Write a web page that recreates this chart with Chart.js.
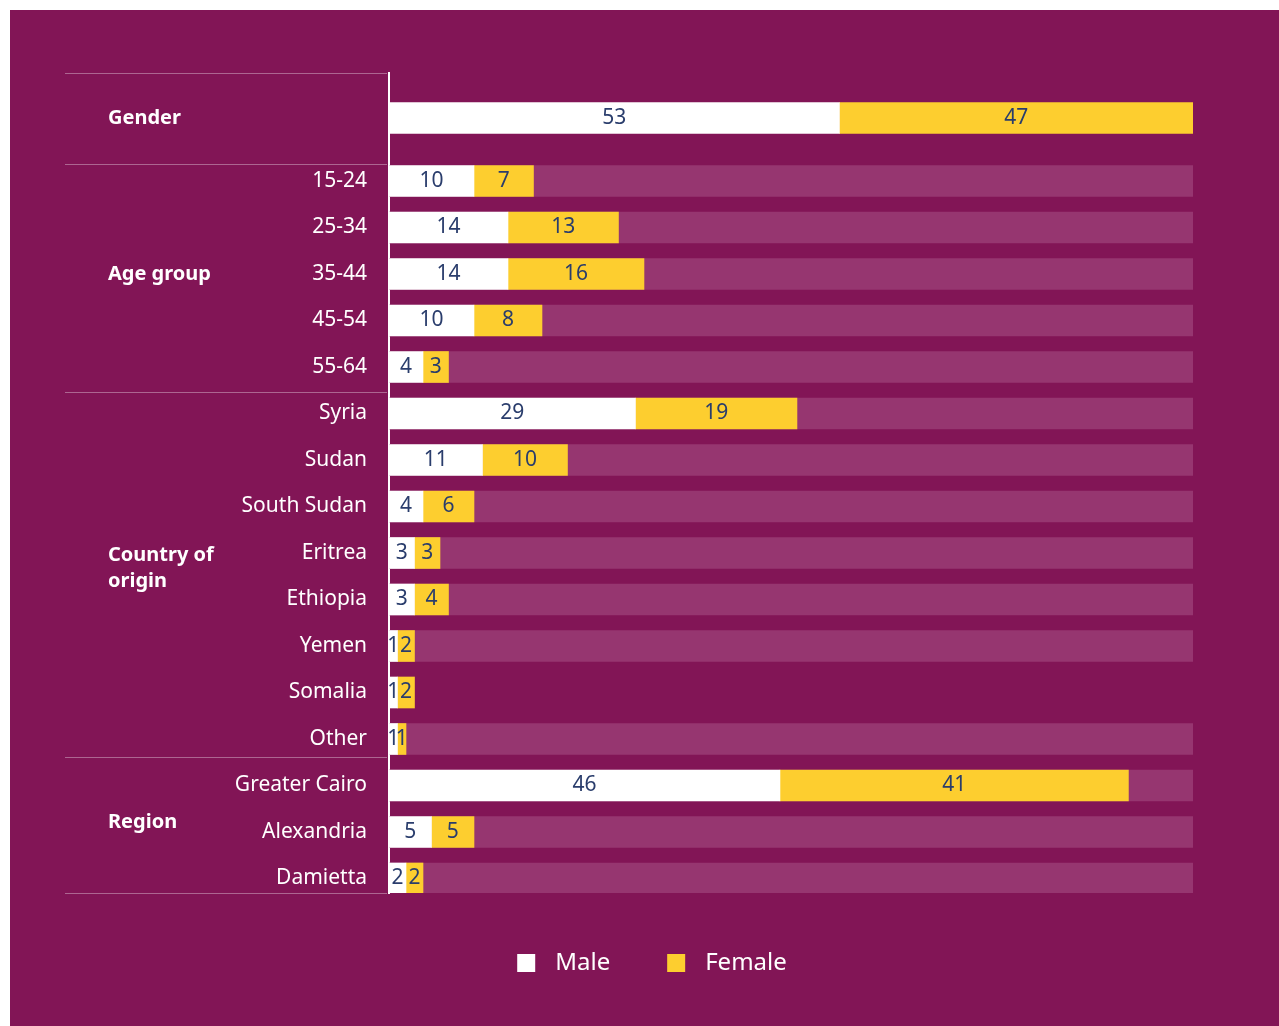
<!DOCTYPE html>
<html>
<head>
<meta charset="utf-8">
<script src="https://cdn.jsdelivr.net/npm/chart.js@4/dist/chart.umd.min.js"></script>
<style>
  html, body { margin: 0; padding: 0; background: #ffffff; }
  canvas { display: block; }
</style>
</head>
<body>
<canvas id="chart" width="1279" height="1026"></canvas>
<script>
// Row labels (first row is the overall gender split)
const rowLabels = ['', '15-24', '25-34', '35-44', '45-54', '55-64',
  'Syria', 'Sudan', 'South Sudan', 'Eritrea', 'Ethiopia', 'Yemen', 'Somalia', 'Other',
  'Greater Cairo', 'Alexandria', 'Damietta'];

// Percentages per row
const maleValues   = [53, 10, 14, 14, 10, 4, 29, 11, 4, 3, 3, 1, 1, 1, 46, 5, 2];
const femaleValues = [47, 7, 13, 16, 8, 3, 19, 10, 6, 3, 4, 2, 2, 1, 41, 5, 2];

// Rows that carry a light track behind the bars
const hasTrack = [false, true, true, true, true, true, true, true, true, true, true, true, false, true, true, true, true];

// Groups of rows: title lines, first row, last row
const groupNames = [['Gender'], ['Age group'], ['Country of', 'origin'], ['Region']];
const groupFirst = [0, 1, 6, 14];
const groupLast  = [0, 5, 13, 16];

const seriesNames = ['Male', 'Female'];

// ---- layout / style ----
const PURPLE = '#821556';
const TRACK = '#963670';
const YELLOW = '#fdce2f';
const NAVY = '#2a3d6c';
const FONT = '"Noto Sans", "Open Sans", sans-serif';
const AXIS_MAX = 94.6;
const gap = 0.355;                       // extra space after the first row
const rowPos = rowLabels.map((_, i) => i === 0 ? 0 : i + gap);
const groupDy = [0, 0, -8, -10];

const trackValues = hasTrack.map(t => t ? AXIS_MAX : null);
const toPoints = arr => arr.map((v, i) => (v === null ? null : { x: v, y: rowPos[i] })).filter(p => p);

const backgroundPlugin = {
  id: 'bg',
  beforeDraw(chart) {
    const { ctx, width, height } = chart;
    ctx.save();
    ctx.fillStyle = '#ffffff';
    ctx.fillRect(0, 0, width, height);
    ctx.fillStyle = PURPLE;
    ctx.fillRect(10, 10, width - 10, height - 10);
    ctx.restore();
  }
};

const decorPlugin = {
  id: 'decor',
  afterDraw(chart) {
    const { ctx, chartArea } = chart;
    const y = chart.scales.y;
    ctx.save();
    // separators between groups
    ctx.strokeStyle = 'rgba(255,255,255,0.35)';
    ctx.lineWidth = 1.2;
    const seps = [chartArea.top, chartArea.bottom];
    for (let g = 1; g < groupFirst.length; g++) {
      const a = y.getPixelForValue(rowPos[groupFirst[g] - 1]);
      const b = y.getPixelForValue(rowPos[groupFirst[g]]);
      seps.push((a + b) / 2 + (g === 1 ? 14 : g === 3 ? -5 : 2));
    }
    seps.forEach(sy => {
      ctx.beginPath();
      ctx.moveTo(65, Math.round(sy) + 0.5);
      ctx.lineTo(chartArea.left - 2, Math.round(sy) + 0.5);
      ctx.stroke();
    });
    // group titles
    ctx.fillStyle = '#ffffff';
    ctx.font = 'bold 20px ' + FONT;
    ctx.textAlign = 'left';
    ctx.textBaseline = 'middle';
    groupNames.forEach((lines, g) => {
      const mid = (y.getPixelForValue(rowPos[groupFirst[g]]) + y.getPixelForValue(rowPos[groupLast[g]])) / 2 + groupDy[g];
      const lh = 26;
      lines.forEach((t, k) => {
        ctx.fillText(t, 108, mid + (k - (lines.length - 1) / 2) * lh);
      });
    });
    // legend
    ctx.font = '24px ' + FONT;
    const colors = ['#ffffff', YELLOW];
    const box = 18, boxGap = 20, itemGap = 57;
    const widths = seriesNames.map(n => ctx.measureText(n).width);
    const total = widths.reduce((s, w) => s + box + boxGap + w, 0) + itemGap * (seriesNames.length - 1);
    let lx = 652 - total / 2;
    const ly = 963;
    seriesNames.forEach((n, i) => {
      ctx.fillStyle = colors[i];
      ctx.fillRect(lx, ly - box / 2, box, box);
      ctx.fillStyle = '#ffffff';
      ctx.fillText(n, lx + box + boxGap, ly);
      lx += box + boxGap + widths[i] + itemGap;
    });
    ctx.restore();
  }
};

const valueLabelPlugin = {
  id: 'valueLabels',
  afterDatasetsDraw(chart) {
    const { ctx, chartArea } = chart;
    ctx.save();
    ctx.font = '21px ' + FONT;
    ctx.fillStyle = NAVY;
    ctx.textAlign = 'center';
    ctx.textBaseline = 'middle';
    [1, 2].forEach(di => {
      const meta = chart.getDatasetMeta(di);
      const ds = chart.data.datasets[di];
      meta.data.forEach((el, i) => {
        const lo = Math.max(Math.min(el.base, el.x), chartArea.left);
        const hi = Math.min(Math.max(el.base, el.x), chartArea.right);
        ctx.fillText(String(ds.data[i].x), (lo + hi) / 2, el.y);
      });
    });
    ctx.restore();
  }
};

new Chart(document.getElementById('chart'), {
  type: 'bar',
  data: {
    datasets: [
      { label: 'track', data: toPoints(trackValues), backgroundColor: TRACK, stack: 'track', order: 3 },
      { label: seriesNames[0], data: toPoints(maleValues), backgroundColor: '#ffffff', stack: 'share', order: 1 },
      { label: seriesNames[1], data: toPoints(femaleValues), backgroundColor: YELLOW, stack: 'share', order: 1 }
    ]
  },
  options: {
    indexAxis: 'y',
    responsive: false,
    devicePixelRatio: 1,
    animation: false,
    datasets: { bar: { barThickness: 31, grouped: false, borderWidth: 0 } },
    layout: { padding: { top: 73, right: 86, bottom: 133, left: 0 } },
    scales: {
      x: { type: 'linear', stacked: true, min: 0, max: AXIS_MAX, display: false },
      y: {
        type: 'linear',
        reverse: true,
        offset: false,
        min: -0.968,
        max: 16.667,
        grid: { display: false, drawTicks: false, offset: false },
        border: { display: true, color: '#ffffff', width: 2 },
        afterBuildTicks(scale) { scale.ticks = rowPos.map(v => ({ value: v })); },
        afterFit(scale) { scale.width = 389; },
        ticks: {
          autoSkip: false,
          padding: 22,
          color: '#ffffff',
          font: { family: FONT, size: 21 },
          callback: (v, i) => rowLabels[i]
        }
      }
    },
    plugins: { legend: { display: false }, tooltip: { enabled: false } }
  },
  plugins: [backgroundPlugin, decorPlugin, valueLabelPlugin]
});
</script>
</body>
</html>
